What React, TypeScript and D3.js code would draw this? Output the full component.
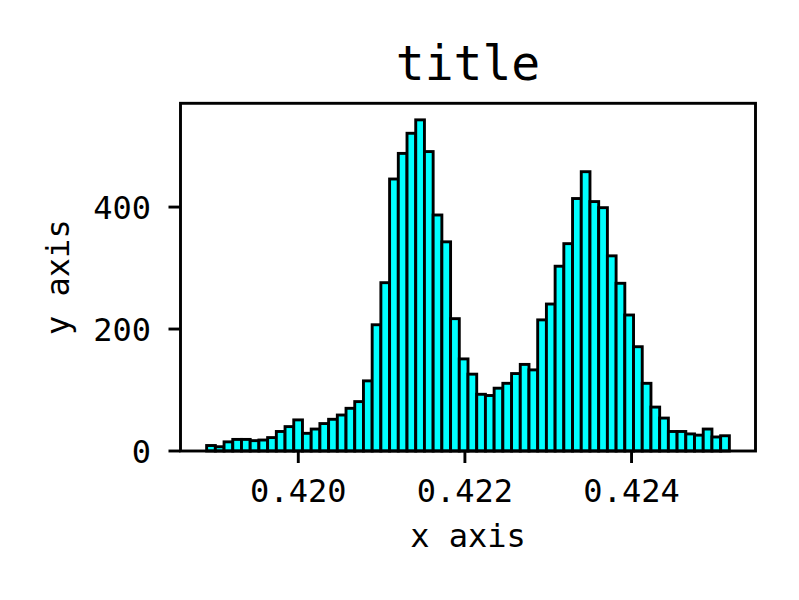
import React from "react";
import * as d3 from "d3";

const binStart = 0.4189;
const binWidth = 0.00010457;
const counts = [
  9, 7, 15, 19, 19, 17, 18, 22, 32, 40, 51, 29, 36, 45, 52, 59, 70, 81, 115, 207,
  276, 446, 488, 521, 543, 491, 387, 343, 217, 151, 126, 93, 91, 103, 111, 127, 142, 133, 215, 241,
  303, 340, 414, 458, 409, 399, 320, 275, 223, 171, 111, 72, 54, 32, 32, 28, 26, 36, 23, 25,
];
const xTicks = [0.42, 0.422, 0.424];
const yTicks = [0, 200, 400];
const titleText = "title";
const xLabel = "x axis";
const yLabel = "y axis";

const W = 799;
const H = 600;
const left = 180.5;
const right = 755.5;
const bottom = 451;
const FONT = "'DejaVu Sans Mono', monospace";

export default function App() {
  const n = counts.length;
  const dMin = binStart;
  const dMax = binStart + n * binWidth;
  const R = dMax - dMin;
  const x = d3.scaleLinear().domain([dMin - 0.05 * R, dMax + 0.05 * R]).range([left, right]);
  const yMax = (d3.max(counts) as number) * 1.05;
  const y = d3.scaleLinear().domain([0, yMax]).range([bottom, 103.3]);
  const top = y(yMax);
  const lw = 2.9;
  return (
    <svg width={W} height={H} style={{ position: "absolute", left: 0, top: 0, background: "#fff" }}>
      <rect x={0} y={0} width={W} height={H} fill="#fff" />
      {counts.map((c, i) => {
        const x0 = x(binStart + i * binWidth);
        const x1 = x(binStart + (i + 1) * binWidth);
        return (
          <rect
            key={i}
            x={x0}
            y={y(c)}
            width={x1 - x0}
            height={bottom - y(c)}
            fill="#00ffff"
            stroke="#000"
            strokeWidth={lw}
          />
        );
      })}
      <rect x={left} y={top} width={right - left} height={bottom - top} fill="none" stroke="#000" strokeWidth={lw} />
      {xTicks.map((t) => (
        <g key={t}>
          <line x1={x(t)} x2={x(t)} y1={bottom} y2={bottom + 12} stroke="#000" strokeWidth={lw} />
          <text x={x(t)} y={502} textAnchor="middle" fontFamily={FONT} fontSize={32}>
            {d3.format(".3f")(t)}
          </text>
        </g>
      ))}
      {yTicks.map((t) => (
        <g key={t}>
          <line x1={left} x2={left - 12} y1={y(t)} y2={y(t)} stroke="#000" strokeWidth={lw} />
          <text x={151} y={y(t) + 11.5} textAnchor="end" fontFamily={FONT} fontSize={32}>
            {String(t)}
          </text>
        </g>
      ))}
      <text x={(left + right) / 2} y={80} textAnchor="middle" fontFamily={FONT} fontSize={48}>
        {titleText}
      </text>
      <text x={(left + right) / 2} y={547} textAnchor="middle" fontFamily={FONT} fontSize={32}>
        {xLabel}
      </text>
      <text
        transform={`translate(69, ${(top + bottom) / 2}) rotate(-90)`}
        textAnchor="middle"
        fontFamily={FONT}
        fontSize={32}
      >
        {yLabel}
      </text>
    </svg>
  );
}
